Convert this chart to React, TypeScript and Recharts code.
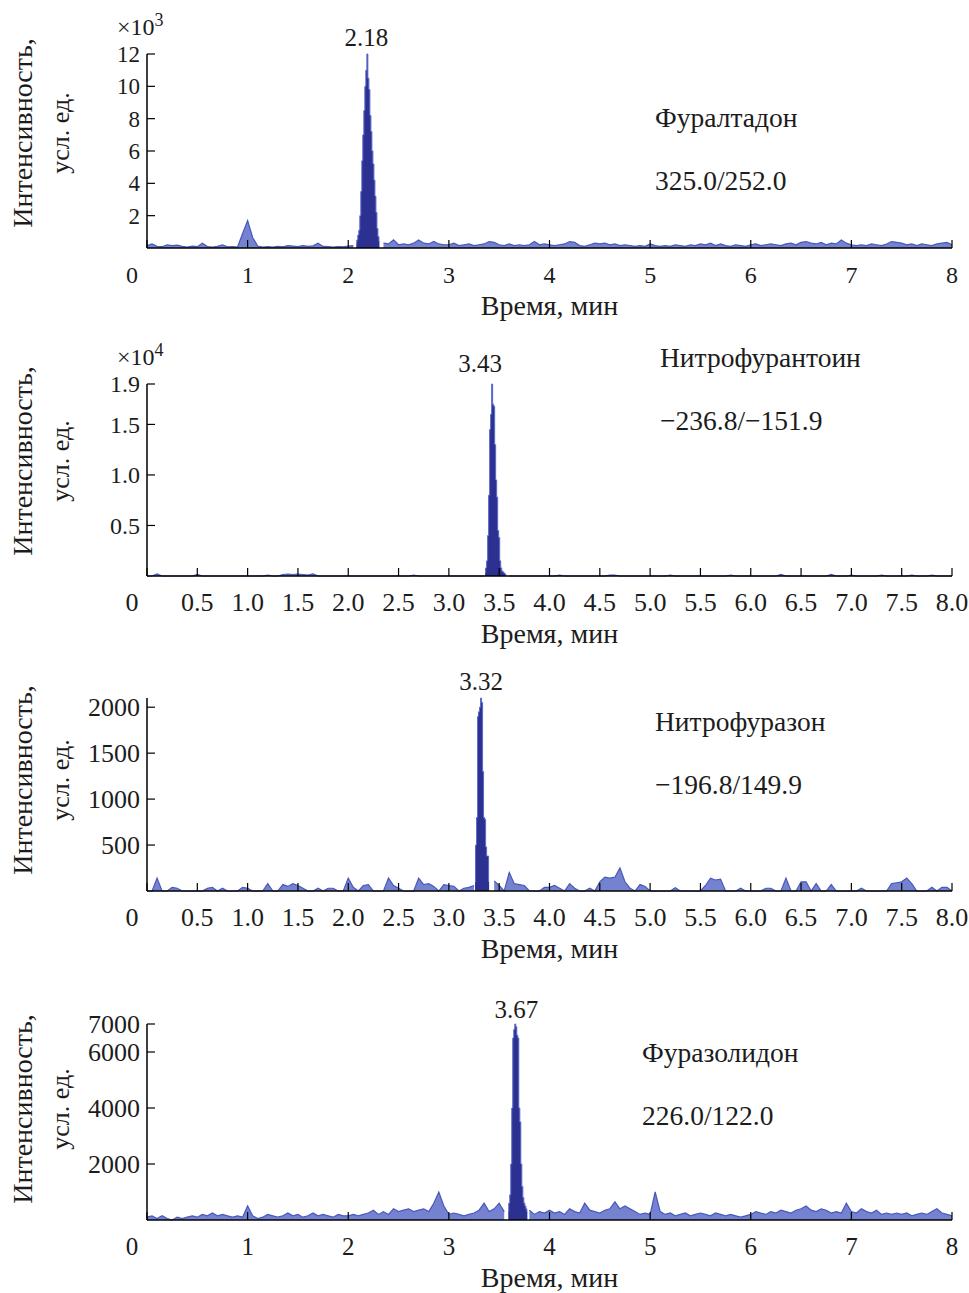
import React from 'react'
import { AreaChart, Area, XAxis, YAxis, ReferenceDot } from 'recharts'

const FONT = '"Liberation Serif", "Times New Roman", serif'
const INK = '#1c1c1c'

// retention time grid for baseline noise, min
const times = [
  0, 0.05, 0.1, 0.15, 0.2, 0.25, 0.3, 0.35, 0.4, 0.45, 0.5, 0.55, 0.6, 0.65, 0.7, 0.75, 0.8, 0.85, 0.9, 0.95,
  1, 1.05, 1.1, 1.15, 1.2, 1.25, 1.3, 1.35, 1.4, 1.45, 1.5, 1.55, 1.6, 1.65, 1.7, 1.75, 1.8, 1.85, 1.9, 1.95,
  2, 2.05, 2.1, 2.15, 2.2, 2.25, 2.3, 2.35, 2.4, 2.45, 2.5, 2.55, 2.6, 2.65, 2.7, 2.75, 2.8, 2.85, 2.9, 2.95,
  3, 3.05, 3.1, 3.15, 3.2, 3.25, 3.3, 3.35, 3.4, 3.45, 3.5, 3.55, 3.6, 3.65, 3.7, 3.75, 3.8, 3.85, 3.9, 3.95,
  4, 4.05, 4.1, 4.15, 4.2, 4.25, 4.3, 4.35, 4.4, 4.45, 4.5, 4.55, 4.6, 4.65, 4.7, 4.75, 4.8, 4.85, 4.9, 4.95,
  5, 5.05, 5.1, 5.15, 5.2, 5.25, 5.3, 5.35, 5.4, 5.45, 5.5, 5.55, 5.6, 5.65, 5.7, 5.75, 5.8, 5.85, 5.9, 5.95,
  6, 6.05, 6.1, 6.15, 6.2, 6.25, 6.3, 6.35, 6.4, 6.45, 6.5, 6.55, 6.6, 6.65, 6.7, 6.75, 6.8, 6.85, 6.9, 6.95,
  7, 7.05, 7.1, 7.15, 7.2, 7.25, 7.3, 7.35, 7.4, 7.45, 7.5, 7.55, 7.6, 7.65, 7.7, 7.75, 7.8, 7.85, 7.9, 7.95,
  8,
]

// null = covered by the peak arrays below
const furaltadoneNoise = [
  150, 250, 100, 80, 200, 150, 180, 100, 60, 120, 80, 300, 90, 60, 100, 200, 70, 90, 60, 900,
  1700, 650, 120, 60, 80, 50, 100, 70, 150, 120, 90, 150, 100, 130, 300, 100, 80, 60, 90, 70,
  120, 150, null, null, null, null, null, 300, 250, 500, 200, 250, 200, 300, 500, 300, 250, 400, 250, 200,
  200, 300, 150, 200, 250, 150, 200, 250, 400, 350, 200, 150, 250, 150, 200, 150, 200, 400, 200, 250,
  200, 150, 200, 250, 400, 350, 150, 100, 200, 300, 250, 300, 200, 250, 150, 200, 150, 100, 150, 100,
  250, 150, 100, 150, 100, 200, 150, 100, 200, 150, 250, 200, 300, 150, 250, 150, 100, 200, 150, 100,
  200, 250, 150, 200, 250, 200, 150, 250, 300, 200, 350, 400, 300, 250, 350, 200, 300, 250, 500, 300,
  200, 150, 200, 150, 250, 200, 150, 250, 400, 350, 300, 200, 250, 150, 250, 200, 150, 250, 300, 350,
  200,
]
const furaltadonePeakT = [
  2.08, 2.09, 2.1, 2.11, 2.12, 2.13, 2.14, 2.15, 2.16, 2.17, 2.18, 2.19,
  2.2, 2.21, 2.22, 2.23, 2.24, 2.25, 2.26, 2.27, 2.28, 2.29, 2.3, 2.31,
]
const furaltadonePeakV = [
  300, 500, 800, 1100, 2000, 3500, 5400, 7000, 8500, 10000, 11000, 12000,
  10500, 9800, 8200, 7200, 6000, 5200, 4200, 3200, 2200, 1200, 700, 400,
]

const nitrofurantoinNoise = [
  0, 0, 200, 0, 0, 0, 0, 0, 0, 0, 150, 0, 0, 0, 0, 0, 0, 0, 0, 0,
  0, 0, 0, 0, 100, 0, 0, 150, 200, 150, 200, 150, 100, 200, 0, 0, 0, 0, 0, 0,
  0, 0, 0, 0, 0, 0, 0, 0, 0, 0, 0, 0, 0, 100, 0, 0, 0, 0, 0, 0,
  0, 0, 0, 0, 0, 0, 0, 0, null, null, null, null, 0, 0, 0, 0, 0, 0, 0, 0,
  0, 0, 100, 0, 0, 0, 0, 0, 0, 0, 0, 0, 100, 100, 0, 0, 0, 0, 0, 0,
  0, 0, 0, 0, 100, 0, 0, 0, 0, 0, 0, 0, 0, 0, 0, 0, 100, 0, 0, 0,
  0, 0, 0, 0, 0, 0, 150, 0, 0, 0, 0, 0, 0, 0, 0, 0, 150, 0, 0, 0,
  100, 0, 0, 0, 0, 0, 100, 0, 0, 0, 0, 0, 100, 0, 0, 0, 100, 0, 0, 0,
  0,
]
const nitrofurantoinPeakT = [
  3.36, 3.37, 3.38, 3.39, 3.4, 3.41, 3.42, 3.43, 3.44, 3.45, 3.46,
  3.47, 3.48, 3.49, 3.5, 3.51, 3.52, 3.53, 3.54, 3.55, 3.56, 3.57,
]
const nitrofurantoinPeakV = [
  300, 800, 1500, 4000, 8000, 14500, 16000, 19000, 17000, 16800, 13000,
  9500, 7800, 4500, 3800, 1500, 800, 500, 400, 300, 200, 0,
]

const nitrofurazoneNoise = [
  0, 0, 140, 0, 0, 40, 30, 0, 0, 0, 0, 0, 30, 40, 0, 30, 0, 0, 0, 40,
  30, 0, 0, 0, 80, 0, 0, 70, 50, 80, 60, 30, 0, 0, 30, 0, 30, 30, 0, 0,
  140, 40, 0, 60, 70, 0, 0, 0, 140, 60, 30, 0, 0, 0, 140, 70, 80, 50, 0, 70,
  60, 50, 0, 30, 40, 60, null, null, null, 110, 60, 0, 200, 80, 70, 60, 0, 0, 0, 40,
  40, 60, 30, 0, 80, 30, 0, 0, 30, 0, 100, 150, 140, 150, 250, 100, 30, 0, 70, 50,
  0, 0, 0, 0, 0, 35, 0, 0, 0, 0, 0, 60, 140, 120, 130, 0, 0, 0, 30, 0,
  0, 0, 0, 30, 30, 0, 0, 140, 0, 0, 100, 100, 0, 80, 0, 0, 70, 0, 0, 0,
  0, 0, 30, 0, 0, 0, 0, 0, 80, 90, 100, 140, 80, 0, 0, 0, 40, 0, 40, 40,
  0,
]
const nitrofurazonePeakT = [3.26, 3.27, 3.28, 3.29, 3.3, 3.31, 3.32, 3.33, 3.34, 3.35, 3.36, 3.37, 3.38, 3.39, 3.4]
const nitrofurazonePeakV = [100, 500, 800, 1900, 1950, 2000, 2100, 2050, 1300, 800, 780, 480, 380, 380, 100]

const furazolidoneNoise = [
  100, 150, 50, 150, 50, 0, 100, 50, 100, 150, 100, 200, 150, 250, 150, 200, 150, 100, 150, 100,
  500, 150, 50, 100, 200, 150, 100, 150, 250, 150, 200, 100, 150, 250, 150, 200, 150, 100, 200, 150,
  150, 200, 150, 200, 250, 350, 200, 300, 200, 400, 300, 350, 400, 300, 350, 400, 300, 600, 1000, 500,
  200, 250, 200, 150, 200, 250, 350, 600, 300, 400, 600, 300, null, null, null, null, 350, 200, 300, 250,
  350, 250, 300, 200, 400, 300, 250, 600, 350, 300, 250, 350, 400, 650, 400, 500, 400, 300, 200, 250,
  200, 1000, 300, 200, 250, 150, 200, 250, 150, 200, 250, 200, 150, 250, 200, 150, 200, 150, 100, 150,
  200, 300, 250, 200, 300, 250, 350, 300, 250, 350, 400, 500, 350, 300, 400, 350, 250, 300, 250, 600,
  300, 250, 400, 300, 250, 350, 200, 250, 200, 250, 200, 250, 150, 200, 250, 200, 300, 400, 250, 200,
  150,
]
const furazolidonePeakT = [
  3.59, 3.6, 3.61, 3.62, 3.63, 3.64, 3.65, 3.66, 3.67, 3.68,
  3.69, 3.7, 3.71, 3.72, 3.73, 3.74, 3.75, 3.76, 3.77, 3.78,
]
const furazolidonePeakV = [
  300, 600, 900, 2000, 4000, 6500, 6800, 7000, 6900, 6600,
  6500, 4000, 3500, 2000, 1200, 800, 600, 500, 400, 300,
]

const xTicksWhole = [0, 1, 2, 3, 4, 5, 6, 7, 8]
const xTicksHalf = [0, 0.5, 1, 1.5, 2, 2.5, 3, 3.5, 4, 4.5, 5, 5.5, 6, 6.5, 7, 7.5, 8]

type Row = { t: number; noise: number | null; peak: number | null }

// noise and peak go in separate columns so each can get its own colour
function buildSeries(noise: (number | null)[], peakT: number[], peakV: number[]) {
  const rows: Row[] = []
  times.forEach((t, i) => {
    if (noise[i] !== null) rows.push({ t, noise: noise[i], peak: null })
  })
  peakT.forEach((t, i) => rows.push({ t, noise: null, peak: peakV[i] }))
  rows.sort((a, b) => a.t - b.t)
  return rows
}

const fmtWhole = (v: number) => String(v)
const fmtHalf = (v: number) => (v === 0 ? '0' : v.toFixed(1))

const panels = [
  {
    key: 'p1', plotTop: 54, plotBottom: 248,
    data: buildSeries(furaltadoneNoise, furaltadonePeakT, furaltadonePeakV),
    yMax: 12000, yTicks: [2000, 4000, 6000, 8000, 10000, 12000], yFmt: (v: number) => String(v / 1000),
    xTicks: xTicksWhole, xFmt: fmtWhole, yFont: 23, xFont: 24,
    peak: '2.18', peakX: 2.18, peakOffset: 7,
    name: 'Фуралтадон', transition: '325.0/252.0', textX: 655, nameY: 127, transY: 190,
    scale: '3', labelY: 133,
  },
  {
    key: 'p2', plotTop: 384, plotBottom: 576,
    data: buildSeries(nitrofurantoinNoise, nitrofurantoinPeakT, nitrofurantoinPeakV),
    yMax: 19000, yTicks: [5000, 10000, 15000, 19000], yFmt: (v: number) => (v / 10000).toFixed(1),
    xTicks: xTicksHalf, xFmt: fmtHalf, yFont: 24, xFont: 26,
    peak: '3.43', peakX: 3.31, peakOffset: 11,
    name: 'Нитрофурантоин', transition: '\u2212236.8/\u2212151.9', textX: 660, nameY: 367, transY: 430,
    scale: '4', labelY: 461,
  },
  {
    key: 'p3', plotTop: 698, plotBottom: 891,
    data: buildSeries(nitrofurazoneNoise, nitrofurazonePeakT, nitrofurazonePeakV),
    yMax: 2100, yTicks: [500, 1000, 1500, 2000], yFmt: fmtWhole,
    xTicks: xTicksHalf, xFmt: fmtHalf, yFont: 26, xFont: 26,
    peak: '3.32', peakX: 3.32, peakOffset: 7,
    name: 'Нитрофуразон', transition: '\u2212196.8/149.9', textX: 655, nameY: 731, transY: 794,
    scale: '', labelY: 780,
  },
  {
    key: 'p4', plotTop: 1024, plotBottom: 1220,
    data: buildSeries(furazolidoneNoise, furazolidonePeakT, furazolidonePeakV),
    yMax: 7000, yTicks: [2000, 4000, 6000, 7000], yFmt: fmtWhole,
    xTicks: xTicksWhole, xFmt: fmtWhole, yFont: 26, xFont: 25,
    peak: '3.67', peakX: 3.67, peakOffset: 5,
    name: 'Фуразолидон', transition: '226.0/122.0', textX: 642, nameY: 1062, transY: 1125,
    scale: '', labelY: 1109,
  },
]

function XTick(props: any) {
  const { x, y, payload, fmt, size } = props
  const v = payload.value
  return (
    <g>
      <line x1={x} y1={y} x2={x} y2={y - 8} stroke="#000" strokeWidth={1.2} />
      <text x={v === 0 ? x - 15 : x} y={y + 35} textAnchor="middle" fontSize={size} fontFamily={FONT} fill={INK}>
        {fmt(v)}
      </text>
    </g>
  )
}

function YTick(props: any) {
  const { x, y, payload, fmt, size } = props
  return (
    <g>
      <line x1={x} y1={y} x2={x + 8} y2={y} stroke="#000" strokeWidth={1.2} />
      <text x={x - 7} y={y} dy="0.35em" textAnchor="end" fontSize={size} fontFamily={FONT} fill={INK}>
        {fmt(payload.value)}
      </text>
    </g>
  )
}

const TOP_PAD = 60
const X_AXIS_H = 40

export default function App() {
  return (
    <div style={{ position: 'absolute', left: 0, top: 0, width: 969, height: 1293, background: '#fff' }}>
      {panels.map((p) => {
        const height = p.plotBottom - p.plotTop + TOP_PAD + X_AXIS_H + 5
        return (
          <div key={p.key} style={{ position: 'absolute', left: 0, top: p.plotTop - TOP_PAD }}>
            <AreaChart width={969} height={height} data={p.data}
              margin={{ top: TOP_PAD, right: 17, bottom: 5, left: 87 }}>
              <XAxis type="number" dataKey="t" domain={[0, 8]} ticks={p.xTicks} interval={0}
                height={X_AXIS_H} tickSize={0} tickMargin={0} tickLine={false}
                axisLine={{ stroke: '#000', strokeWidth: 1.5 }}
                tick={(tp: any) => <XTick {...tp} fmt={p.xFmt} size={p.xFont} />} />
              <YAxis type="number" domain={[0, p.yMax]} ticks={p.yTicks} interval={0}
                width={60} tickSize={0} tickMargin={0} tickLine={false}
                axisLine={{ stroke: '#000', strokeWidth: 1.5 }}
                tick={(tp: any) => <YTick {...tp} fmt={p.yFmt} size={p.yFont} />} />
              <Area type="linear" dataKey="noise" stroke="#4858bd" strokeWidth={1.2} fill="#5d6cc8"
                fillOpacity={0.85} dot={false} activeDot={false} isAnimationActive={false} />
              <Area type="step" dataKey="peak" stroke="#5a6ac8" strokeWidth={1} fill="#2c3191" fillOpacity={1}
                dot={false} activeDot={false} isAnimationActive={false} />
              <ReferenceDot x={p.peakX} y={p.yMax} r={1} fill="none" stroke="none"
                label={{ value: p.peak, position: 'top', offset: p.peakOffset, fill: INK, fontSize: 25, fontFamily: FONT }} />
            </AreaChart>
          </div>
        )
      })}
      <svg width={969} height={1293} style={{ position: 'absolute', left: 0, top: 0, pointerEvents: 'none' }}
        fontFamily={FONT} fill={INK}>
        {panels.map((p) => (
          <g key={p.key}>
            <text x={p.textX} y={p.nameY} fontSize={27.5}>{p.name}</text>
            <text x={p.textX} y={p.transY} fontSize={27.5}>{p.transition}</text>
            <text x={549.5} y={p.plotBottom + 67} fontSize={28} textAnchor="middle">Время, мин</text>
            <text transform={`translate(22,${p.labelY}) rotate(-90)`} fontSize={28} textAnchor="middle" dy="0.35em">
              Интенсивность,
            </text>
            <text transform={`translate(60,${p.labelY}) rotate(-90)`} fontSize={26} textAnchor="middle" dy="0.35em">
              усл. ед.
            </text>
            {p.scale && (
              <text x={117} y={p.plotTop - 19} fontSize={24}>
                ×10<tspan dy={-9} fontSize={18}>{p.scale}</tspan>
              </text>
            )}
          </g>
        ))}
      </svg>
    </div>
  )
}
